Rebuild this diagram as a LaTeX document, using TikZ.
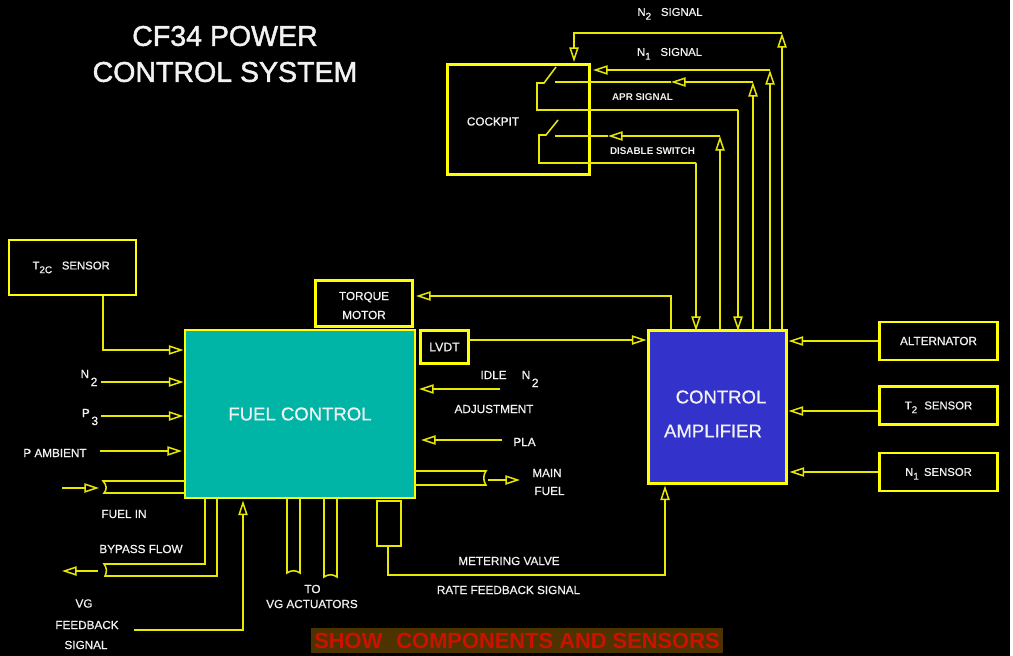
\documentclass[tikz,border=0pt]{standalone}
\usepackage{fontspec}
\setmainfont{Liberation Sans}
\newfontfamily\tf{Liberation Sans}[FakeBold=0.7]
\newfontfamily\ttlf{Liberation Sans}[FakeBold=1.5]
\usetikzlibrary{arrows.meta}
\definecolor{ylw}{HTML}{FFFF00}
\definecolor{thinylw}{HTML}{E8E800}
\definecolor{txt}{HTML}{F2F2F2}
\definecolor{teal}{HTML}{00B5A5}
\definecolor{ampblue}{HTML}{3333CC}
\newcommand{\lowsub}[1]{\raisebox{-2.8pt}[0pt][0pt]{\fontsize{7.4pt}{8pt}\selectfont #1}}
\newcommand{\bigsub}[1]{\hspace{1.2pt}\raisebox{-6pt}[0pt][0pt]{\fontsize{9pt}{9pt}\selectfont #1}}
\tikzset{
  heavybox/.style={draw=ylw,line width=2.2pt,rectangle,inner sep=0pt,text=txt,align=center,font=\tf\fontsize{8.8pt}{14.2pt}\selectfont},
  wire/.style={draw=thinylw,line width=1.15pt,line join=miter},
  arr/.style={wire,-{Triangle[open,length=11pt,width=7pt,line width=1.15pt]}},
  lbl/.style={text=txt,inner sep=0pt,align=center,font=\tf\fontsize{8.8pt}{10pt}\selectfont},
  senslbl/.style={font=\tf\fontsize{8.5pt}{10pt}\selectfont},
  siglbl/.style={text=txt,inner sep=0pt,font=\tf\fontsize{8.5pt}{10pt}\selectfont},
  tinylbl/.style={text=txt,inner sep=0pt,font=\fontsize{7.4pt}{9pt}\bfseries\selectfont},
  ttl/.style={text=txt,inner sep=0pt,font=\ttlf\fontsize{21.4pt}{24pt}\selectfont},
  amplbl/.style={text=txt,inner sep=0pt,font=\tf\fontsize{13.9pt}{16pt}\selectfont},
}
\begin{document}
\begin{tikzpicture}[x=0.75pt,y=-0.75pt]
\useasboundingbox[fill=black] (0,0) rectangle (1013,656);
\fill[white] (1009.5,0) rectangle (1013,656);
% titles
\node[ttl] (title1) at (225,36) {CF34 POWER};
\node[ttl] (title2) at (225,72) {CONTROL SYSTEM};
% boxes
\node[heavybox,fill=teal,minimum width={230*0.75pt},minimum height={168*0.75pt},font=\tf\fontsize{13.9pt}{16pt}\selectfont] (fc) at (300,414) {FUEL CONTROL};
\node[heavybox,fill=ampblue,minimum width={138*0.75pt},minimum height={153*0.75pt}] (amp) at (717.5,407) {};
\node[heavybox,senslbl,minimum width={127*0.75pt},minimum height={55*0.75pt}] (t2c) at (72.5,267.5) {T\lowsub{2C}\hspace{5pt} SENSOR\rule[-3pt]{0pt}{3pt}\hspace{2pt}};
\node[heavybox,minimum width={97*0.75pt},minimum height={46*0.75pt}] (torque) at (364,303.5) {};
\node[heavybox,minimum width={48*0.75pt},minimum height={33*0.75pt},font=\tf\fontsize{9.2pt}{11pt}\selectfont] (lvdt) at (444.5,347) {LVDT};
\node[heavybox,minimum width={118*0.75pt},minimum height={38*0.75pt}] (alt) at (938.5,341) {ALTERNATOR};
\node[heavybox,senslbl,minimum width={118*0.75pt},minimum height={38*0.75pt}] (t2) at (938.5,405.5) {T\lowsub{2}\hspace{3pt} SENSOR};
\node[heavybox,senslbl,minimum width={118*0.75pt},minimum height={38*0.75pt}] (n1) at (938.5,472) {N\lowsub{1}\hspace{1.5pt} SENSOR};
\node[heavybox,minimum width={142*0.75pt},minimum height={110*0.75pt}] (cockpit) at (518.5,119.5) {};
\node[draw=thinylw,line width=1.4pt,inner sep=0pt,minimum width={24*0.75pt},minimum height={45*0.75pt}] (mv) at (389,523.5) {};
% text placed off-centre in its box
\node[text=txt,inner sep=0pt,align=center,font=\tf\fontsize{8.8pt}{14.2pt}\selectfont] (torquet) at (364,305.5) {TORQUE\\MOTOR};
\node[amplbl] (ctrl) at (721,397) {CONTROL};
\node[amplbl] (ampl) at (713,431) {AMPLIFIER};
\node[lbl] (cocktxt) at (493,121.5) {COCKPIT};
% free end coordinates
\coordinate (n2l) at (101,382);
\coordinate (p3l) at (101,416);
\coordinate (pal) at (100,451);
\coordinate (idler) at (500,389);
\coordinate (plar) at (502,440);
\coordinate (vgl) at (134,630);
% left inputs
\draw[arr] (103,0 |- t2c.south) -- (103,350) -- (183.5,350);
\draw[arr] (n2l) -- (183.5,382);
\draw[arr] (p3l) -- (183.5,416);
\draw[arr] (pal) -- (182,451);
\draw[arr] (vgl) -- (243,630) -- (243,500.5);
% pipes
\draw[wire] (185,481) -- (103,481) .. controls (107,485) and (107,490) .. (104,493) -- (185,493);
\coordinate (fuelinl) at (62,488);
\coordinate (fuelinr) at (99,488);
\draw[arr] (fuelinl) -- (fuelinr);
\draw[wire] (205,498) -- (205,564) -- (104,564) .. controls (107,568) and (107,572) .. (105,576) -- (217,576) -- (217,498);
\coordinate (bypr) at (98,571);
\coordinate (bypl) at (62,571);
\draw[arr] (bypr) -- (bypl);
\draw[wire] (287,498) -- (287,573) .. controls (291,570) and (296,570) .. (300,573) -- (300,498);
\draw[wire] (324,498) -- (324,577) .. controls (328,574) and (333,574) .. (337,577) -- (337,498);
\draw[wire] (415,471) -- (486,471) .. controls (483,475) and (483,481) .. (486,485) -- (415,485);
\coordinate (mainl) at (488,480);
\coordinate (mainr) at (520,480);
\draw[arr] (mainl) -- (mainr);
% right of fuel control
\draw[arr] (idler) -- (419,389);
\draw[arr] (plar) -- (421,440);
\draw[arr] (lvdt.east |- 0,340) -- (646.5,340);
\draw[arr] (671,0 |- amp.north) -- (671,296) -- (416,296);
\draw[arr] (388,0 |- mv.south) -- (388,575) -- (665,575) -- (665,485.5);
% sensors
\draw[arr] (alt.west) -- (788.5,341);
\draw[arr] (878,411) -- (788.5,411);
\draw[arr] (n1.west) -- (789.5,472);
% signals to the cockpit
\draw[arr] (782,0 |- amp.north) -- (782,33);
\draw[arr] (782,33) -- (574,33) -- (574,62);
\draw[arr] (770,0 |- amp.north) -- (770,70);
\draw[arr] (770,70) -- (593,70);
\draw[arr] (753,0 |- amp.north) -- (753,82);
\draw[arr] (753,82) -- (671,82);
\draw[wire] (671,82) -- (555,82);
\draw[arr] (720,0 |- amp.north) -- (720,136);
\draw[arr] (720,136) -- (608,136);
\draw[wire] (608,136) -- (555,136);
% switches
\draw[wire] (556,67) -- (544,83) -- (537,83) -- (537,110) -- (738,110);
\draw[arr] (738,110) -- (738,331);
\draw[wire] (558,120) -- (546,135) -- (539,135) -- (539,163) -- (696,163);
\draw[arr] (696,163) -- (696,331);
% labels
\node[siglbl] (sign2) at (670,12) {N\lowsub{2}\hspace{5pt} SIGNAL};
\node[siglbl] (sign1) at (669.5,52) {N\lowsub{1}\hspace{5pt} SIGNAL};
\node[tinylbl] (apr) at (642.5,97) {APR SIGNAL};
\node[tinylbl] (dis) at (652.5,151) {DISABLE SWITCH};
\node[lbl] (n2t) at (89,374) {N\bigsub{2}};
\node[lbl] (p3t) at (90,413) {P\bigsub{3}};
\node[lbl] (pambt) at (55,453) {P AMBIENT};
\node[lbl] (fint) at (124,514) {FUEL IN};
\node[lbl] (bypt) at (141,549) {BYPASS FLOW};
\node[lbl] (vg1) at (84,603.5) {VG};
\node[lbl] (vg2) at (87,625) {FEEDBACK};
\node[lbl] (vg3) at (86,645) {SIGNAL};
\node[lbl] (tot) at (312.5,589) {TO};
\node[lbl] (vgt) at (312,604) {VG ACTUATORS};
\node[lbl] (idlet) at (509.5,375) {IDLE\hspace{9pt} N\bigsub{2}};
\node[lbl] (adjt) at (494,409) {ADJUSTMENT};
\node[lbl] (plat) at (524.5,442) {PLA};
\node[lbl] (mt) at (547,473) {MAIN};
\node[lbl] (ft) at (549.5,491) {FUEL};
\node[lbl] (mvt) at (509,561) {METERING VALVE};
\node[lbl] (ratet) at (508.5,590) {RATE FEEDBACK SIGNAL};
\node[fill={rgb,255:red,77;green,51;blue,0},text={rgb,255:red,204;green,17;blue,0},inner sep=0pt,minimum width={412*0.75pt},minimum height={25*0.75pt},font=\fontsize{16.4pt}{18pt}\bfseries\selectfont] (show) at (517,640.5) {SHOW\hspace{6pt} COMPONENTS AND SENSORS};
\end{tikzpicture}
\end{document}
